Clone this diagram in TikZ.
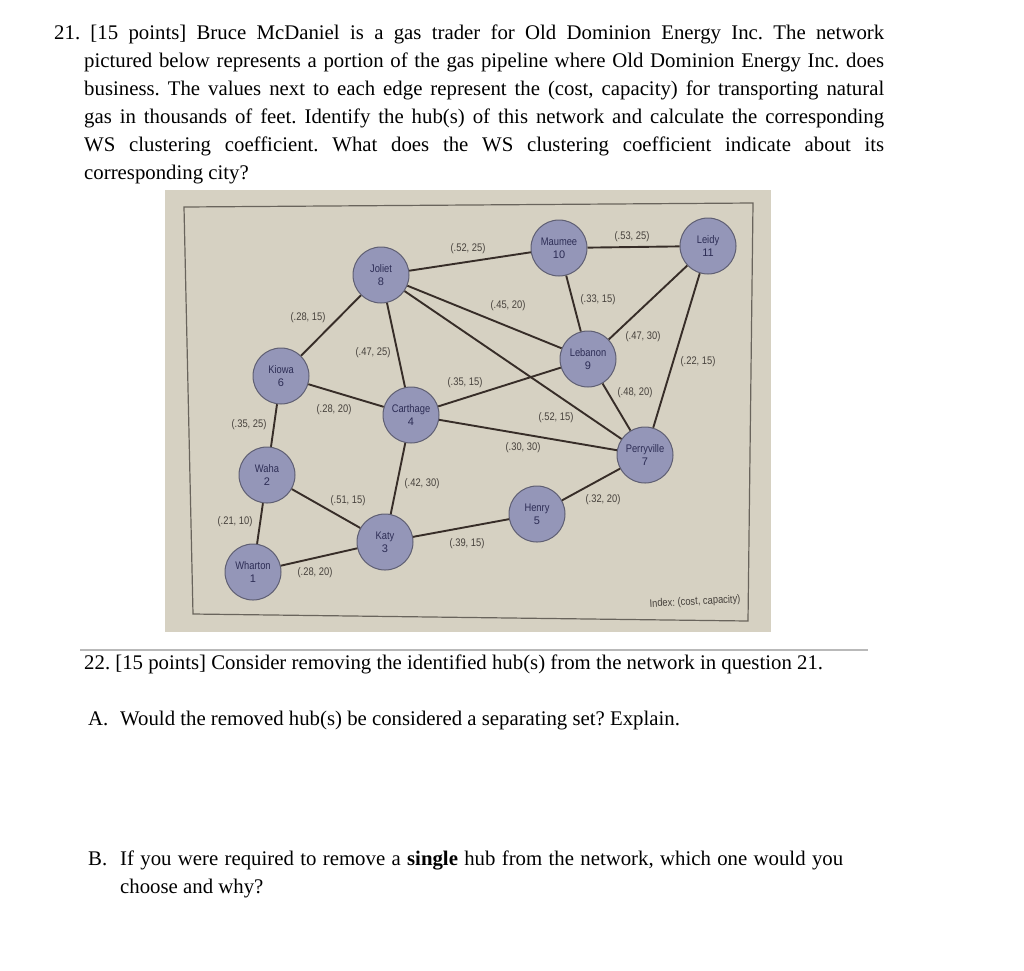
\documentclass[tikz,border=0pt]{standalone}
\usepackage{fontspec}
\setmainfont{Liberation Serif}
\setsansfont{Liberation Sans}
\frenchspacing
\definecolor{photobg}{RGB}{214,209,194}
\definecolor{frameline}{RGB}{105,100,92}
\definecolor{nodefill}{RGB}{148,150,184}
\definecolor{nodeline}{RGB}{95,95,115}
\definecolor{nodetext}{RGB}{45,45,85}
\definecolor{pipeline}{RGB}{55,45,40}
\definecolor{labeltext}{RGB}{70,65,60}
\definecolor{rulegray}{RGB}{185,185,185}
\newcommand{\narrow}[1]{\scalebox{0.85}[1]{#1}}
\tikzset{
  city/.style={circle, draw=nodeline, fill=nodefill, line width=1pt,
    minimum size=56pt, inner sep=0pt, align=center, text=nodetext,
    font=\sffamily\fontsize{11}{13}\selectfont},
  pipe/.style={pipeline, line width=1.9pt},
  cost/.style={text=labeltext, inner sep=1pt, font=\sffamily\fontsize{11}{13}\selectfont},
  qtext/.style={anchor=base west, inner sep=0pt, font=\fontsize{20.8}{24}\selectfont}
}

\begin{document}
\begin{tikzpicture}[x=1pt,y=-1pt]
  \useasboundingbox[fill=white] (0,0) rectangle (1024,970);

  % question 21
  \node[qtext] (q1) at (54,39) {\makebox[830pt][s]{21. [15 points] Bruce McDaniel is a gas trader for Old Dominion Energy Inc. The network}};
  \node[qtext] (q2) at (84,67) {\makebox[800pt][s]{pictured below represents a portion of the gas pipeline where Old Dominion Energy Inc. does}};
  \node[qtext] (q3) at (84,95) {\makebox[800pt][s]{business. The values next to each edge represent the (cost, capacity) for transporting natural}};
  \node[qtext] (q4) at (84,123) {\makebox[800pt][s]{gas in thousands of feet. Identify the hub(s) of this network and calculate the corresponding}};
  \node[qtext] (q5) at (84,151) {\makebox[800pt][s]{WS clustering coefficient. What does the WS clustering coefficient indicate about its}};
  \node[qtext] (q6) at (84,179) {corresponding city?};

  % photo of the network
  \fill[photobg] (165,190) rectangle (771,632);
  \draw[frameline, line width=1.2pt] (184,207) -- (753,203) -- (748,621) -- (193,614) -- cycle;

  \node[city] (wharton)    at (253,572) {\narrow{Wharton}\\1};
  \node[city] (waha)       at (267,475) {\narrow{Waha}\\2};
  \node[city] (katy)       at (385,542) {\narrow{Katy}\\3};
  \node[city] (carthage)   at (411,415) {\narrow{Carthage}\\4};
  \node[city] (henry)      at (537,514) {\narrow{Henry}\\5};
  \node[city] (kiowa)      at (281,376) {\narrow{Kiowa}\\6};
  \node[city] (perryville) at (645,455) {\narrow{Perryville}\\7};
  \node[city] (joliet)     at (381,275) {\narrow{Joliet}\\8};
  \node[city] (lebanon)    at (588,359) {\narrow{Lebanon}\\9};
  \node[city] (maumee)     at (559,248) {\narrow{Maumee}\\10};
  \node[city] (leidy)      at (708,246) {\narrow{Leidy}\\11};

  \foreach \a/\b in {joliet/maumee, maumee/leidy, joliet/kiowa, joliet/carthage,
      joliet/lebanon, joliet/perryville, maumee/lebanon, lebanon/leidy,
      leidy/perryville, lebanon/perryville, kiowa/carthage, kiowa/waha,
      carthage/lebanon, carthage/perryville, carthage/katy, waha/katy,
      waha/wharton, wharton/katy, katy/henry, henry/perryville}
    \draw[pipe] (\a) -- (\b);

  % (cost, capacity) labels
  \foreach \c/\k/\x/\y [count=\i] in {52/25/468/249, 53/25/632/237, 28/15/308/318,
      47/25/373/353, 45/20/508/306, 52/15/556/418, 33/15/598/300, 47/30/643/337,
      22/15/698/362, 48/20/635/393, 28/20/334/410, 35/25/249/425, 35/15/465/383,
      30/30/523/448, 42/30/422/484, 51/15/348/501, 21/10/235/522, 28/20/315/573,
      39/15/467/544, 32/20/603/500}
    \node[cost] (lbl\i) at (\x,\y) {\narrow{(.\c, \k)}};
  \node[cost, rotate=3] (index) at (695,602) {\narrow{Index: (cost, capacity)}};

  % question 22
  \draw[rulegray, line width=2pt] (80,650) -- (868,650);
  \node[qtext] (q7) at (84,669) {22. [15 points] Consider removing the identified hub(s) from the network in question 21.};
  \node[qtext] (pa) at (88,725) {A.};
  \node[qtext] (qa) at (120,725) {Would the removed hub(s) be considered a separating set? Explain.};
  \node[qtext] (pb) at (88,865) {B.};
  \node[qtext] (qb1) at (120,865) {\makebox[723pt][s]{If you were required to remove a \textbf{single} hub from the network, which one would you}};
  \node[qtext] (qb2) at (120,893) {choose and why?};
\end{tikzpicture}
\end{document}
